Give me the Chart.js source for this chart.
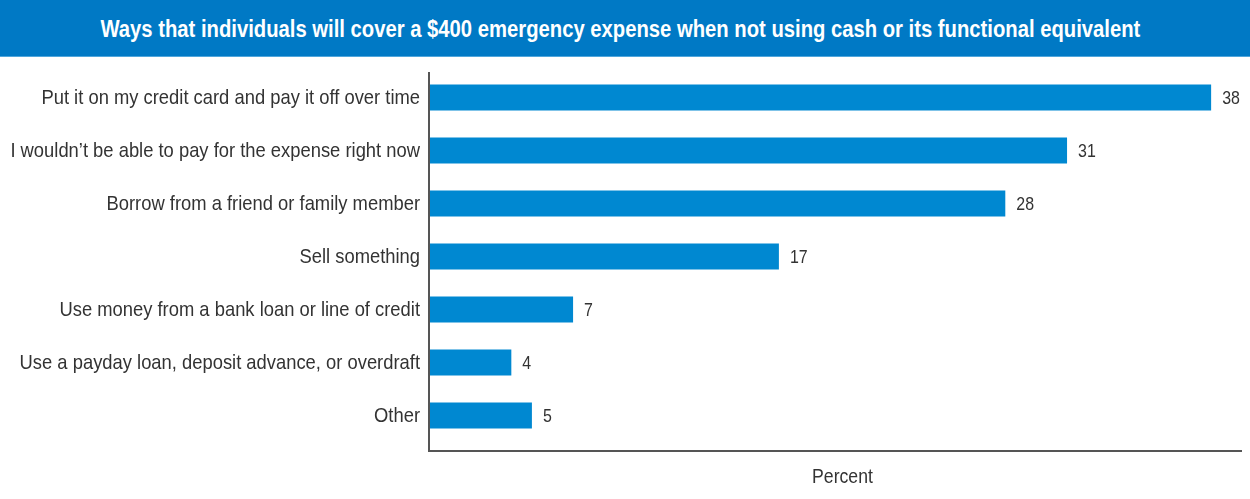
<!DOCTYPE html>
<html>
<head>
<meta charset="utf-8">
<script src="https://cdn.jsdelivr.net/npm/chart.js@4/dist/chart.umd.min.js"></script>
<style>
  html, body { margin: 0; padding: 0; background: #fff; }
  #titre {
    height: 56px; line-height: 58px; background: #0079c5;
    border-bottom: 1px solid #4fa6dc;
    color: #fff; text-align: center; white-space: nowrap; overflow: hidden;
    font-family: "Liberation Sans", Arial, sans-serif;
    font-weight: bold; font-size: 24px;
  }
  #titre span { display: inline-block; transform-origin: 50% 50%; }
  #wrap { position: relative; width: 1250px; height: 442px; }
</style>
</head>
<body>
<div id="titre"><span id="texteTitre">Ways that individuals will cover a $400 emergency expense when not using cash or its functional equivalent</span></div>
<div id="wrap"><canvas id="grafico"></canvas></div>
<script>
// categorias e valores (percentual)
const categorias = [
  'Put it on my credit card and pay it off over time',
  'I wouldn\u2019t be able to pay for the expense right now',
  'Borrow from a friend or family member',
  'Sell something',
  'Use money from a bank loan or line of credit',
  'Use a payday loan, deposit advance, or overdraft',
  'Other'
];
const valores = [38, 31, 28, 17, 7, 4, 5];
const tituloEixo = 'Percent';

const fonte = '"Liberation Sans", Arial, sans-serif';
const aperto = 0.875; // fonte original é condensada

// título condensado na largura original
const sp = document.getElementById('texteTitre');
sp.style.transform = 'translateX(-5px) scaleX(' + (1040 / sp.offsetWidth) + ')';

function textoEstreito(ctx, txt, x, y, align, k) {
  ctx.save();
  ctx.translate(x, y);
  ctx.scale(k || aperto, 1);
  ctx.textAlign = align;
  ctx.fillText(txt, 0, 0);
  ctx.restore();
}

// rótulos das categorias + números no fim das barras
const rotulos = {
  id: 'rotulos',
  afterDatasetsDraw(chart) {
    const ctx = chart.ctx, ys = chart.scales.y;
    ctx.save();
    ctx.fillStyle = '#333';
    ctx.textBaseline = 'middle';
    ctx.font = '21px ' + fonte;
    categorias.forEach((c, i) => {
      textoEstreito(ctx, c, ys.right - 9, ys.getPixelForValue(i) + 1, 'right');
    });
    ctx.font = '19px ' + fonte;
    chart.getDatasetMeta(0).data.forEach((bar, i) => {
      textoEstreito(ctx, String(valores[i]), bar.x + 11, bar.y + 1, 'left', 0.84);
    });
    ctx.font = '21px ' + fonte;
    const a = chart.chartArea;
    textoEstreito(ctx, tituloEixo, (a.left + a.right) / 2 + 7, a.bottom + 35, 'center', 0.84);
    ctx.restore();
  }
};

// eixos em L (o de baixo fica um pouco abaixo da área)
const eixos = {
  id: 'eixos',
  afterDraw(chart) {
    const a = chart.chartArea, ctx = chart.ctx;
    ctx.save();
    ctx.strokeStyle = '#555';
    ctx.lineWidth = 2;
    ctx.beginPath();
    ctx.moveTo(a.left, a.top + 1);
    ctx.lineTo(a.left, a.bottom + 9);
    ctx.lineTo(a.right, a.bottom + 9);
    ctx.stroke();
    ctx.restore();
  }
};

new Chart(document.getElementById('grafico'), {
  type: 'bar',
  data: {
    labels: categorias,
    datasets: [{
      data: valores,
      backgroundColor: '#0088d1',
      barPercentage: 0.49,
      categoryPercentage: 1
    }]
  },
  options: {
    indexAxis: 'y',
    responsive: true,
    maintainAspectRatio: false,
    animation: false,
    layout: { padding: { top: 14, right: 8, bottom: 57, left: 0 } },
    plugins: { legend: { display: false }, tooltip: { enabled: false } },
    scales: {
      x: {
        min: 0, max: 39.5,
        grid: { display: false, drawTicks: false },
        border: { display: false },
        ticks: { display: false }
      },
      y: {
        grid: { display: false, drawTicks: false },
        border: { display: false },
        ticks: { display: false },
        afterFit(s) { s.width = 429; }
      }
    }
  },
  plugins: [rotulos, eixos]
});
</script>
</body>
</html>
